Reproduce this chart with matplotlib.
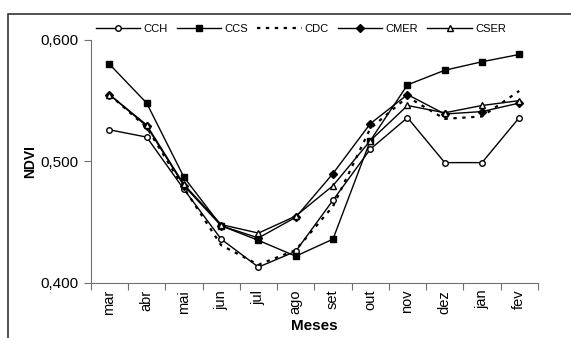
import matplotlib.pyplot as plt
from matplotlib.patches import Rectangle
from matplotlib.ticker import FuncFormatter, FixedLocator

plt.rcParams["font.family"] = ["Liberation Sans", "DejaVu Sans"]

meses = ["mar", "abr", "mai", "jun", "jul", "ago", "set", "out", "nov", "dez", "jan", "fev"]

cch = [0.526, 0.520, 0.477, 0.436, 0.413, 0.426, 0.468, 0.510, 0.536, 0.499, 0.499, 0.536]
ccs = [0.580, 0.548, 0.487, 0.447, 0.435, 0.422, 0.436, 0.517, 0.563, 0.575, 0.582, 0.588]
cdc = [0.555, 0.528, 0.478, 0.431, 0.415, 0.427, 0.463, 0.527, 0.553, 0.535, 0.537, 0.558]
cmer = [0.555, 0.529, 0.480, 0.447, 0.437, 0.454, 0.490, 0.531, 0.555, 0.539, 0.541, 0.548]
cser = [0.555, 0.530, 0.481, 0.448, 0.441, 0.455, 0.480, 0.517, 0.546, 0.540, 0.546, 0.550]

fig = plt.figure(figsize=(5.71, 3.38), dpi=100)
ax = fig.add_axes([0.159, 0.163, 0.783, 0.719])

x = [i + 0.5 for i in range(len(meses))]
lw = 1.0
ax.plot(x, cch, color="black", lw=lw, marker="o", ms=4, mfc="white", mec="black", mew=1, label="CCH")
ax.plot(x, ccs, color="black", lw=lw, marker="s", ms=4.5, mfc="black", mec="black", label="CCS")
ax.plot(x, cdc, color="black", lw=1.6, ls=(0, (1.5, 2.5)), label="CDC")
ax.plot(x, cmer, color="black", lw=lw, marker="D", ms=4, mfc="black", mec="black", label="CMER")
ax.plot(x, cser, color="black", lw=lw, marker="^", ms=5, mfc="white", mec="black", mew=1, label="CSER")

ax.set_xlim(0, len(meses))
ax.set_ylim(0.4, 0.6)
ax.set_yticks([0.4, 0.5, 0.6])
ax.yaxis.set_major_formatter(FuncFormatter(lambda v, p: f"{v:.3f}".replace(".", ",")))
ax.xaxis.set_major_locator(FixedLocator(range(len(meses) + 1)))
ax.xaxis.set_major_formatter(FuncFormatter(lambda v, p: ""))
ax.xaxis.set_minor_locator(FixedLocator(x))
ax.set_xticklabels(meses, minor=True, rotation=90, fontsize=10.5)
ax.tick_params(axis="x", which="minor", length=0, pad=5)
ax.tick_params(axis="x", which="major", length=5, direction="out", color="#707070")
ax.tick_params(axis="y", length=5, direction="out", color="#707070", labelsize=11)

for s in ["top", "right"]:
    ax.spines[s].set_visible(False)
for s in ["left", "bottom"]:
    ax.spines[s].set_color("#707070")

ax.set_ylabel("NDVI", fontsize=10, fontweight="bold", labelpad=3)
ax.set_xlabel("Meses", fontsize=11, fontweight="bold", labelpad=3)

ax.legend(loc="center", bbox_to_anchor=(0.47, 1 + 11 / 243), ncol=5, frameon=False,
          fontsize=8, handlelength=4.0, handletextpad=0.3, columnspacing=0.8,
          borderaxespad=0)

# outer frame (only top and left edges visible in the original crop)
fig.patches.append(Rectangle((8 / 571, -0.1), 1.2, 1.1 - 14 / 338, transform=fig.transFigure,
                             fill=False, edgecolor="#333333", lw=1.2))

fig.savefig("out.png", dpi=100)
